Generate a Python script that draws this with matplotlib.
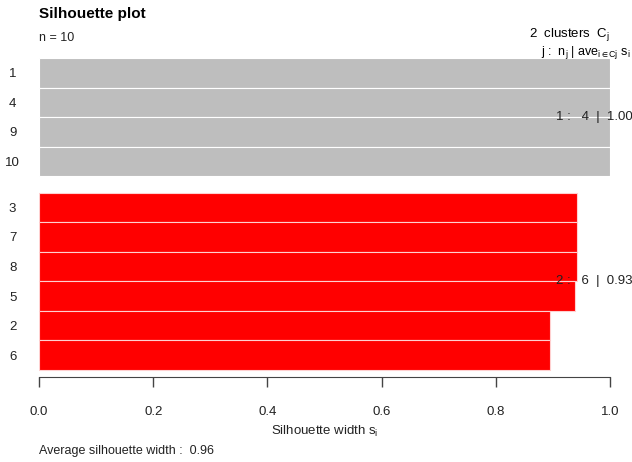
import numpy as np
import matplotlib.pyplot as plt

plt.rcParams['font.family'] = ['Liberation Sans', 'DejaVu Sans']
plt.rcParams['mathtext.fontset'] = 'custom'
plt.rcParams['mathtext.rm'] = 'Liberation Sans'
plt.rcParams['mathtext.it'] = 'Liberation Sans'

# silhouette widths per observation, ordered within cluster
labels_c1 = ['1', '4', '9', '10']
sil_c1 = [1.00, 1.00, 1.00, 1.00]
labels_c2 = ['3', '7', '8', '5', '2', '6']
sil_c2 = [0.942, 0.942, 0.942, 0.939, 0.895, 0.895]
x_ticks = [0.0, 0.2, 0.4, 0.6, 0.8, 1.0]

gap = 0.55
W, H = 632, 462
fig = plt.figure(figsize=(W / 100, H / 100), dpi=100)
ax = fig.add_axes([39 / W, 1 - 377 / H, (610 - 39) / W, (377 - 58) / H])

pos_c1 = np.arange(len(sil_c1)) + 0.5
pos_c2 = len(sil_c1) + gap + np.arange(len(sil_c2)) + 0.5
ax.barh(pos_c1, sil_c1, height=1.0, color='#BEBEBE', edgecolor='white', linewidth=0.8)
ax.barh(pos_c2, sil_c2, height=1.0, color='#FF0000', edgecolor='#FFD0D0', linewidth=0.8)

top = pos_c2[-1] + 0.5
ax.set_xlim(0, 1)
ax.set_ylim(top + (377 - 370) / ((370 - 58) / top), 0)

ax.set_yticks(np.concatenate([pos_c1, pos_c2]))
ax.set_yticklabels(labels_c1 + labels_c2, fontsize=9.5, color='#222222', ha='center')
ax.tick_params(axis='y', length=0, pad=19)
ax.set_xticks(x_ticks)
ax.set_xticklabels(['%.1f' % t for t in x_ticks], fontsize=9.5, color='#222222')
ax.tick_params(axis='x', length=7, width=1, color='#444444', pad=14, direction='out')
for s in ['top', 'right', 'left']:
    ax.spines[s].set_visible(False)
ax.spines['bottom'].set_color('#444444')
ax.set_xlabel('Silhouette width $\\mathregular{s_i}$', fontsize=9.5, color='#222222', labelpad=4)

# cluster summaries
avg1 = np.mean(sil_c1)
avg2 = np.mean(sil_c2)
ax.text(0.905, pos_c1.mean(), '1 :   %d  |  %.2f' % (len(sil_c1), avg1),
        fontsize=9.5, va='center', ha='left', color='#222222')
ax.text(0.905, pos_c2.mean(), '2 :   %d  |  %.2f' % (len(sil_c2), avg2),
        fontsize=9.5, va='center', ha='left', color='#222222')

fig.text(39 / W, 1 - 14 / H, 'Silhouette plot', fontsize=11, fontweight='bold', va='center')
fig.text(39 / W, 1 - 38 / H, 'n = 10', fontsize=9, va='center', color='#222222')
fig.text(610 / W, 1 - 35 / H, '2  clusters  $\\mathregular{C_j}$', fontsize=9.5, va='center', ha='right')
fig.text(631 / W, 1 - 53 / H,
         'j :  $\\mathregular{n_j}$ | $\\mathregular{ave_{i\\in Cj}}$ $\\mathregular{s_i}$',
         fontsize=9, va='center', ha='right')
avg_all = np.mean(sil_c1 + sil_c2)
fig.text(39 / W, 1 - 451 / H, 'Average silhouette width :  %.2f' % avg_all,
         fontsize=9, va='center', color='#222222')

fig.savefig('out.png', dpi=100)
